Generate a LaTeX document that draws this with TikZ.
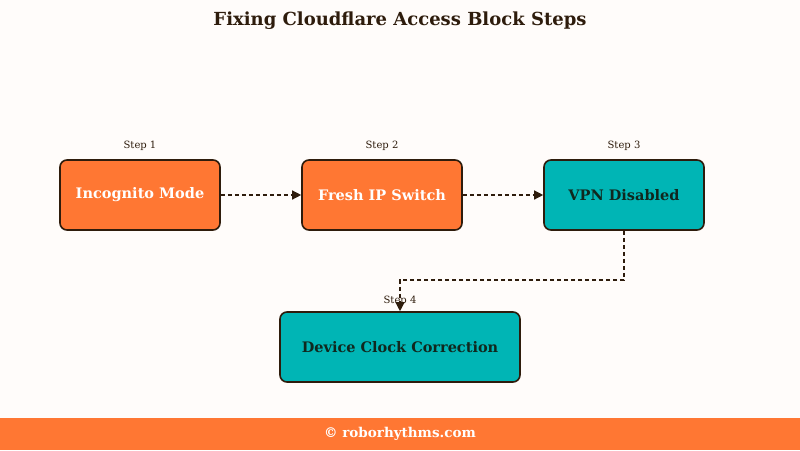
\documentclass[tikz,border=0pt]{standalone}
\usepackage{fontspec}
\setmainfont{DejaVu Serif}
\usetikzlibrary{arrows.meta}
\definecolor{bg}{HTML}{FFFCFA}
\definecolor{orng}{HTML}{FF7733}
\definecolor{teal2}{HTML}{00B5B5}
\definecolor{dbrown}{HTML}{2E1C0C}
\definecolor{dtext}{HTML}{10281E}
\tikzset{
  stepbox/.style={draw=dbrown, line width=1.6pt, rounded corners=7pt, minimum width=160pt, minimum height=70pt, inner sep=0pt, font=\fontsize{14.5}{17}\selectfont\bfseries},
  orangebox/.style={stepbox, fill=orng, text=white},
  tealbox/.style={stepbox, fill=teal2, text=dtext},
  steplabel/.style={font=\fontsize{10}{12}\selectfont, text=dbrown, inner sep=0pt},
  flow/.style={draw=dbrown, line width=1.3pt, dash pattern=on 4pt off 3pt, -{Triangle[length=9pt,width=9pt]}}
}
\begin{document}
\begin{tikzpicture}[x=1pt,y=-1pt]
\fill[bg] (0,0) rectangle (800,450);
\useasboundingbox (0,0) rectangle (800,450);
\node[font=\fontsize{18}{21}\selectfont\bfseries, text=dbrown] (title) at (400,21) {Fixing Cloudflare Access Block Steps};
\node[orangebox] (b1) at (140,195) {Incognito Mode};
\node[orangebox] (b2) at (382,195) {Fresh IP Switch};
\node[tealbox] (b3) at (624,195) {VPN Disabled};
\node[tealbox, minimum width=240pt] (b4) at (400,347) {Device Clock Correction};
\node[steplabel] (l1) at (140,146) {Step 1};
\node[steplabel] (l2) at (382,146) {Step 2};
\node[steplabel] (l3) at (624,146) {Step 3};
\node[steplabel] (l4) at (400,301) {Step 4};
\draw[flow] (b1.east) -- (b2.west);
\draw[flow] (b2.east) -- (b3.west);
\coordinate (m1) at (624,280);
\coordinate (m2) at (400,280);
\draw[flow] (b3.south) -- (m1) -- (m2) -- (b4.north);
\fill[orng] (0,418) rectangle (800,450);
\node[font=\fontsize{13.5}{16}\selectfont\bfseries, text=white] (foot) at (400,434) {© roborhythms.com};
\end{tikzpicture}
\end{document}
